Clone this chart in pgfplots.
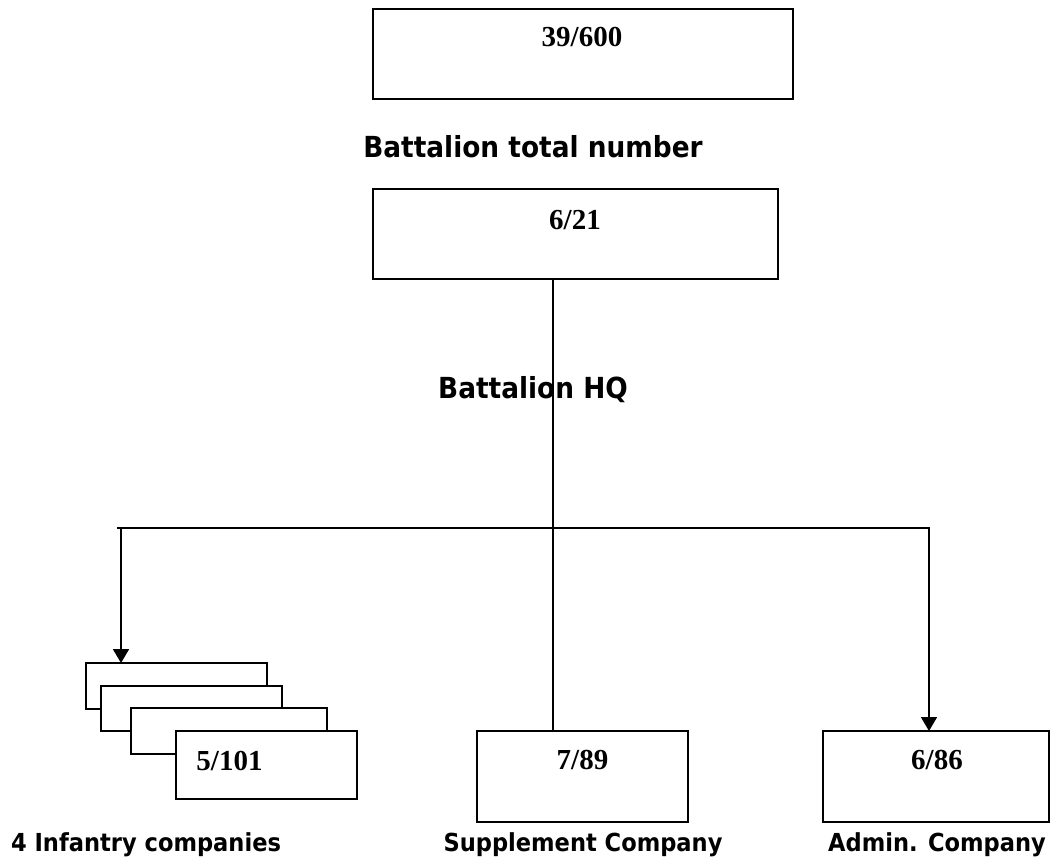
\documentclass[border=0pt]{standalone}
\usepackage{fontspec}
\usepackage{pgfplots}
\pgfplotsset{compat=1.18}
\usetikzlibrary{arrows.meta}
\setmainfont{Liberation Serif}
\newfontfamily\lbl[FakeStretch=0.91]{DejaVu Sans}
\newcommand\numf{\fontsize{14.5pt}{17pt}\selectfont\bfseries}
\newcommand\lblf{\lbl\fontsize{14.5pt}{17pt}\selectfont\bfseries}
\newcommand\lbls{\lbl\fontsize{12.4pt}{15pt}\selectfont\bfseries}
\begin{document}
\begin{tikzpicture}
\begin{axis}[
  width=528pt, height=430.5pt, scale only axis,
  xmin=0, xmax=1056, ymin=0, ymax=861, y dir=reverse,
  hide axis, clip=false,
]
\addplot[draw=none] coordinates {(0,0) (1056,861)};
% text labels (drawn first so connecting line lies over them)
\node[font=\lblf, anchor=base] at (axis cs:533,157) {Battalion total number};
\node[font=\lblf, anchor=base] at (axis cs:533,398) {Battalion HQ};
\node[font=\lbls, anchor=base] at (axis cs:146,851) {4 Infantry companies};
\node[font=\lbls, anchor=base] at (axis cs:583,851) {Supplement Company};
\node[font=\lbls, anchor=base] at (axis cs:937,851) {Admin. Company};
% connectors
\addplot[black, line width=0.9pt] coordinates {(553,279) (553,731)};
\addplot[black, line width=0.9pt] coordinates {(117,528) (930,528)};
\addplot[black, line width=0.9pt, -{Triangle[length=7pt,width=8pt]}] coordinates {(121,528) (121,663)};
\addplot[black, line width=0.9pt, -{Triangle[length=7pt,width=8pt]}] coordinates {(929,528) (929,731)};
% boxes
\addplot[draw=black, fill=white, line width=0.9pt] coordinates {(373,9) (793,9) (793,99) (373,99)} -- cycle;
\addplot[draw=black, fill=white, line width=0.9pt] coordinates {(373,189) (778,189) (778,279) (373,279)} -- cycle;
\addplot[draw=black, fill=white, line width=0.9pt] coordinates {(86,663) (267,663) (267,709) (86,709)} -- cycle;
\addplot[draw=black, fill=white, line width=0.9pt] coordinates {(101,686) (282,686) (282,731) (101,731)} -- cycle;
\addplot[draw=black, fill=white, line width=0.9pt] coordinates {(131,708) (327,708) (327,754) (131,754)} -- cycle;
\addplot[draw=black, fill=white, line width=0.9pt] coordinates {(176,731) (357,731) (357,799) (176,799)} -- cycle;
\addplot[draw=black, fill=white, line width=0.9pt] coordinates {(477,731) (688,731) (688,822) (477,822)} -- cycle;
\addplot[draw=black, fill=white, line width=0.9pt] coordinates {(823,731) (1049,731) (1049,822) (823,822)} -- cycle;
% numbers
\node[font=\numf] at (axis cs:582,37) {39/600};
\node[font=\numf] at (axis cs:575,220) {6/21};
\node[font=\numf] at (axis cs:229.5,761) {5/101};
\node[font=\numf] at (axis cs:582.5,760) {7/89};
\node[font=\numf] at (axis cs:937,760) {6/86};
\end{axis}
\end{tikzpicture}
\end{document}
